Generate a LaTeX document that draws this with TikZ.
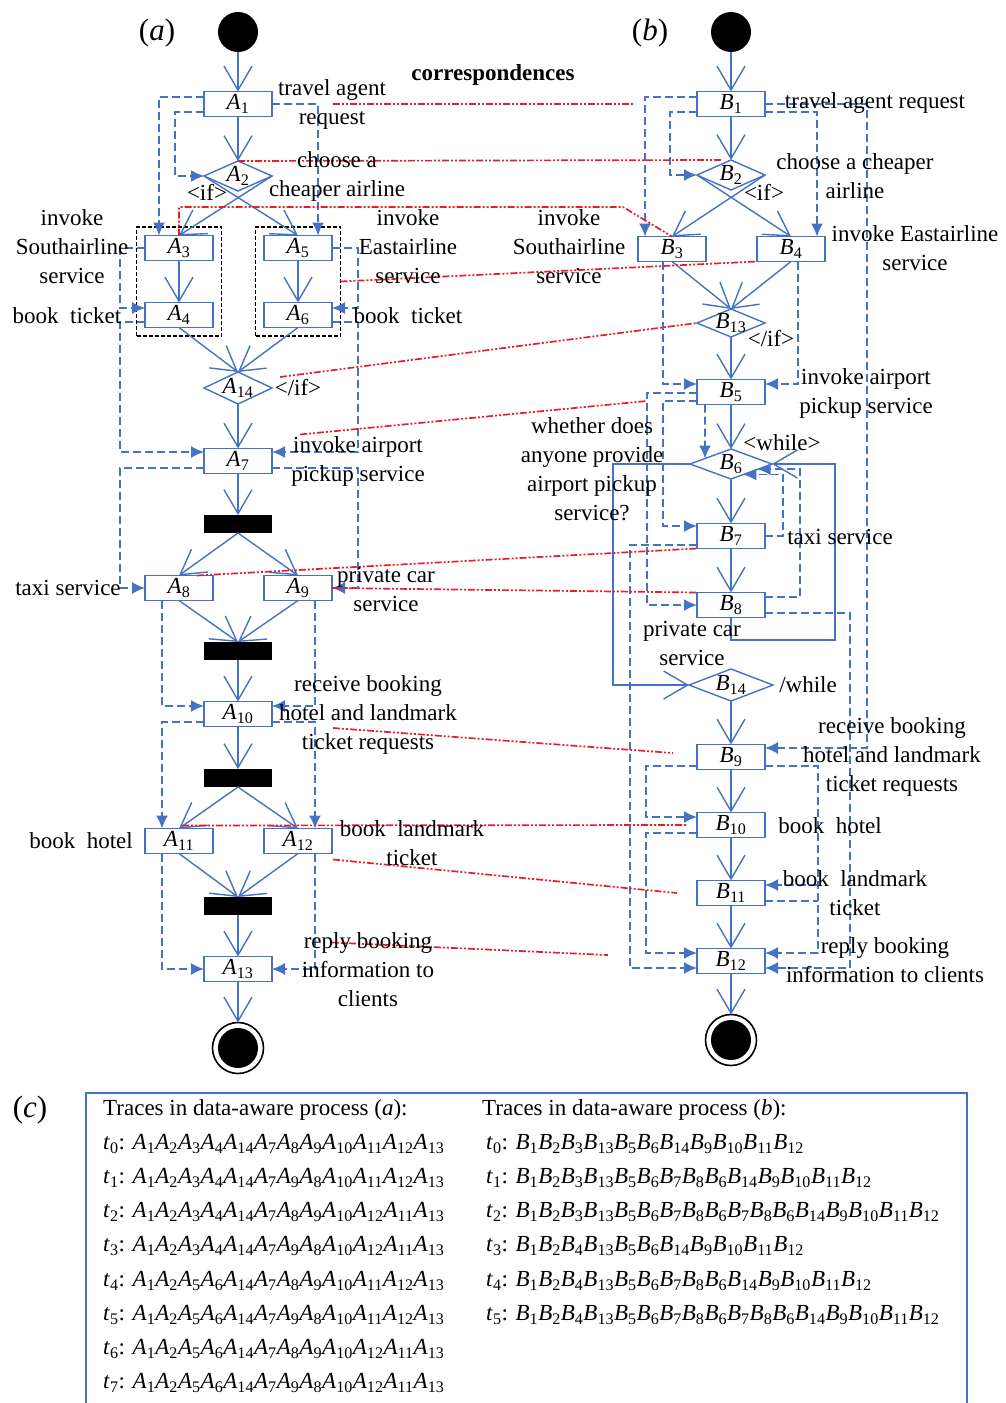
\documentclass[tikz,border=0pt]{standalone}
\usepackage{fontspec}
\setmainfont{Liberation Serif}
\usetikzlibrary{arrows.meta,calc,shapes.geometric,fit}
\definecolor{flowblue}{RGB}{68,114,196}
\definecolor{corrred}{RGB}{232,30,38}
\newcommand\lbl{\fontsize{23}{29}\selectfont}
\newcommand\panelfont{\fontsize{31}{36}\selectfont}
\newcommand\act[2]{\textit{#1}\textsubscript{#2}}
\newcommand\trace[2]{\foreach \k in {#2}{\act{#1}{\k}}}
\begin{document}
\begin{tikzpicture}[x=1pt,y=-1pt,
  every node/.style={inner sep=0pt, outer sep=0pt},
  every label/.style={font=\lbl, inner sep=0pt},
  actbox/.style={draw=flowblue, line width=1.4pt, minimum width=68pt, minimum height=25pt, font=\lbl},
  dec/.style={draw=flowblue, line width=1.4pt, diamond, minimum width=68pt, minimum height=30pt},
  startdot/.style={circle, fill=black, minimum size=40pt},
  stopdot/.style={circle, draw=black, line width=1.6pt, minimum size=51pt,
    path picture={\fill[black] (path picture bounding box.center) circle (20pt);}},
  syncbar/.style={fill=black, minimum width=68pt, minimum height=18pt},
  lab/.style={font=\lbl, align=center},
  flow/.style={draw=flowblue, line width=1.4pt, -{Straight Barb[length=24pt,width=28pt,line width=1.4pt]}},
  data/.style={draw=flowblue, line width=1.6pt, dash pattern=on 8pt off 4pt, -{Latex[length=13pt,width=12pt]}},
  dataline/.style={draw=flowblue, line width=1.6pt, dash pattern=on 8pt off 4pt},
  corr/.style={draw=corrred, line width=1.7pt, dash pattern=on 7pt off 2pt on 2pt off 2pt on 2pt off 2pt},
  grp/.style={draw=black, line width=1.4pt, dash pattern=on 4pt off 2pt, inner sep=8.5pt},
]
\useasboundingbox (0,0) rectangle (1005,1403);

% ---------------- process (a) ----------------
\node[startdot] (sA) at (238,32) {};
\node[actbox] (A1) at (238,104) {\act{A}{1}};
\node[dec, label=center:{\act{A}{2}}] (A2) at (238,176) {};
\node[actbox] (A3) at (179,248) {\act{A}{3}};
\node[actbox] (A4) at (179,315) {\act{A}{4}};
\node[actbox] (A5) at (298,248) {\act{A}{5}};
\node[actbox] (A6) at (298,315) {\act{A}{6}};
\node[grp, fit=(A3)(A4)] (gL) {};
\node[grp, fit=(A5)(A6)] (gR) {};
\node[dec, minimum height=32pt, label=center:{\act{A}{14}}] (A14) at (238,388) {};
\node[actbox] (A7) at (238,461) {\act{A}{7}};
\node[syncbar] (bar1) at (238,524) {};
\node[actbox] (A8) at (179,588) {\act{A}{8}};
\node[actbox] (A9) at (298,588) {\act{A}{9}};
\node[syncbar] (bar2) at (238,651) {};
\node[actbox] (A10) at (238,714) {\act{A}{10}};
\node[syncbar] (bar3) at (238,778) {};
\node[actbox] (A11) at (179,841) {\act{A}{11}};
\node[actbox] (A12) at (298,841) {\act{A}{12}};
\node[syncbar] (bar4) at (238,906) {};
\node[actbox] (A13) at (238,969) {\act{A}{13}};
\node[stopdot] (eA) at (238,1048) {};

% ---------------- process (b) ----------------
\node[startdot] (sB) at (731,32) {};
\node[actbox] (B1) at (731,104) {\act{B}{1}};
\node[dec, label=center:{\act{B}{2}}] (B2) at (731,175) {};
\node[actbox] (B3) at (672,249) {\act{B}{3}};
\node[actbox] (B4) at (791,249) {\act{B}{4}};
\node[dec, minimum height=28pt, label=center:{\act{B}{13}}] (B13) at (731,323) {};
\node[actbox] (B5) at (731,392) {\act{B}{5}};
\node[dec, minimum width=82pt, label=center:{\act{B}{6}}] (B6) at (731,464) {};
\node[actbox] (B7) at (731,536) {\act{B}{7}};
\node[actbox] (B8) at (731,605) {\act{B}{8}};
\node[dec, minimum width=84pt, minimum height=32pt, label=center:{\act{B}{14}}] (B14) at (731,685) {};
\node[actbox] (B9) at (731,757) {\act{B}{9}};
\node[actbox] (B10) at (731,825) {\act{B}{10}};
\node[actbox] (B11) at (731,893) {\act{B}{11}};
\node[actbox] (B12) at (731,961) {\act{B}{12}};
\node[stopdot] (eB) at (731,1040) {};

% ---------------- control flow (a) ----------------
\draw[flow] (sA) -- (A1);
\draw[flow] (A1) -- (A2.north);
\draw[flow] (A2.west) -- (A5.north);
\draw[flow] (A2.east) -- (A3.north);
\draw[flow] (A3) -- (A4);
\draw[flow] (A5) -- (A6);
\draw[flow] (A4.south) -- (A14.north);
\draw[flow] (A6.south) -- (A14.north);
\draw[flow] (A14.south) -- (A7);
\draw[flow] (A7) -- (bar1);
\draw[flow] (bar1.south) -- (A8.north);
\draw[flow] (bar1.south) -- (A9.north);
\draw[flow] (A8.south) -- (bar2.north);
\draw[flow] (A9.south) -- (bar2.north);
\draw[flow] (bar2) -- (A10);
\draw[flow] (A10) -- (bar3);
\draw[flow] (bar3.south) -- (A11.north);
\draw[flow] (bar3.south) -- (A12.north);
\draw[flow] (A11.south) -- (bar4.north);
\draw[flow] (A12.south) -- (bar4.north);
\draw[flow] (bar4) -- (A13);
\draw[flow] (A13) -- (eA);

% ---------------- control flow (b) ----------------
\draw[flow] (sB) -- (B1);
\draw[flow] (B1) -- (B2.north);
\draw[flow] (B2.west) -- (B4.north);
\draw[flow] (B2.east) -- (B3.north);
\draw[flow] (B3.south) -- (B13.north);
\draw[flow] (B4.south) -- (B13.north);
\draw[flow] (B13.south) -- (B5);
\draw[flow] (B5) -- (B6.north);
\draw[flow] (B6.south) -- (B7);
\draw[flow] (B7) -- (B8);
\draw[flow] (B8.south) -- (731,640) -- (835,640) -- (835,464) -- (B6.east);
\draw[flow] (B6.west) -- (613,464) -- (613,685) -- (B14.west);
\draw[flow] (B14.south) -- (B9);
\draw[flow] (B9) -- (B10);
\draw[flow] (B10) -- (B11);
\draw[flow] (B11) -- (B12);
\draw[flow] (B12) -- (eB);

% ---------------- data flow (a) ----------------
\draw[data] ($(A1.west)+(0,-7)$) -| ($(A3.north)+(-20,0)$);
\draw[data] ($(A1.west)+(0,8)$) -- (175,112) |- (A2.west);
\draw[data] (A1.east) -| ($(A5.north)+(20,0)$);
\draw[data] (A3.west) -- (120,248) |- ($(A4.west)+(0,-7)$);
\draw[data] ($(A4.west)+(0,7)$) -- (120,322) |- ($(A7.west)+(0,-9)$);
\draw[data] ($(A7.west)+(0,7)$) -- (120,468) |- (A8.west);
\draw[data] (A5.east) -- (358,248) |- ($(A6.east)+(0,-7)$);
\draw[data] ($(A6.east)+(0,7)$) -- (358,322) |- ($(A7.east)+(0,-9)$);
\draw[data] ($(A7.east)+(0,7)$) -- (358,468) |- (A9.east);
\draw[data] ($(A8.south)+(-17,0)$) |- ($(A10.west)+(0,-8)$);
\draw[data] ($(A9.south)+(17,0)$) |- ($(A10.east)+(0,-8)$);
\draw[data] ($(A10.west)+(0,8)$) -| ($(A11.north)+(-17,0)$);
\draw[data] ($(A10.east)+(0,8)$) -| ($(A12.north)+(17,0)$);
\draw[data] ($(A11.south)+(-17,0)$) |- (A13.west);
\draw[data] ($(A12.south)+(17,0)$) |- (A13.east);

% ---------------- data flow (b) ----------------
\draw[data] ($(B1.west)+(0,-7)$) -| ($(B3.north)+(-27,0)$);
\draw[data] ($(B1.west)+(0,8)$) -- (670,112) |- (B2.west);
\draw[data] ($(B1.east)+(0,8)$) -| ($(B4.north)+(26,0)$);
\draw[data] (B1.east) -- (867,104) |- ($(B9.east)+(0,-9)$);
\draw[data] ($(B3.south)+(-9,0)$) |- ($(B5.west)+(0,-8)$);
\draw[data] ($(B4.south)+(7,0)$) |- ($(B5.east)+(0,-8)$);
\draw[data] ($(B5.west)+(0,1)$) -- (647,393) |- (B8.west);
\draw[data] ($(B5.west)+(0,9)$) -- (663,401) |- ($(B7.west)+(0,-10)$);
\draw[data] ($(B5.south)+(-26,0)$) -- ($(B6.north)!0.634!(B6.west)$);
\draw[data] (B7.east) -- (783,536) |- ($(B6.south)!0.3!(B6.east)$);
\draw[data] ($(B8.east)+(0,-8)$) -- (800,597) |- ($(B6.south)!0.65!(B6.east)$);
\draw[data] ($(B7.west)+(0,9)$) -- (630,545) |- ($(B12.west)+(0,7)$);
\draw[data] ($(B8.east)+(0,8)$) -- (850,613) |- ($(B12.east)+(0,7)$);
\draw[data] ($(B9.west)+(0,9)$) -- (646,766) |- ($(B10.west)+(0,-8)$);
\draw[data] ($(B10.west)+(0,8)$) -- (646,833) |- ($(B12.west)+(0,-8)$);
\draw[data] ($(B9.east)+(0,9)$) -- (818,766) |- ($(B12.east)+(0,-8)$);
\draw[dataline] ($(B11.east)+(0,8)$) -- (818,901);
\draw[data] (818,885) -- ($(B11.east)+(0,-8)$);

% ---------------- correspondences ----------------
\draw[corr] ($(A1.east)+(61,0)$) -- ($(B1.west)+(-63,0)$);
\draw[corr] (A2.north) -- ($(B2.north)+(-10,0)$);
\draw[corr] (A3.north) |- (623,207) -- (B3.north);
\draw[corr] (gR.east) -- (B4.south west);
\draw[corr] ($(A14.east)+(8,-11)$) -- (B13.west);
\draw[corr] ($(A7.north east)+(28,-14)$) -- ($(B5.west)+(-50,9)$);
\draw[corr] ($(A8.north east)+(-16,0)$) -- (B7.south west);
\draw[corr] (A9.east) -- (B8.north west);
\draw[corr] ($(A10.east)+(61,14)$) -- ($(B9.west)+(-24,-4)$);
\draw[corr] ($(A11.north)+(3,-3)$) -- ($(B10.west)+(-10,0)$);
\draw[corr] ($(A12.south east)+(1,6)$) -- ($(B11.west)+(-20,0)$);
\draw[corr] ($(A13.north east)+(60,-14)$) -- ($(B12.west)+(-89,-6)$);

% ---------------- labels ----------------
\node[font=\panelfont] (ta) at (157,33) {(\textit{a})};
\node[font=\panelfont] (tb) at (650,33) {(\textit{b})};
\node[font=\panelfont] (tc) at (30,1110) {(\textit{c})};
\node[lab, font=\lbl\bfseries] (corrhead) at (493,75) {correspondences};

\node[lab] at (332,104) {travel agent\\request};
\node[lab] at (337,176) {choose a\\cheaper airline};
\node[lab] at (207,192) {<if>};
\node[lab] at (72,247) {invoke\\Southairline\\service};
\node[lab] at (408,247) {invoke\\Eastairline\\service};
\node[lab] at (67,316) {book\hspace{0.5em}ticket};
\node[lab] at (408,316) {book\hspace{0.5em}ticket};
\node[lab] at (298,388) {</if>};
\node[lab] at (358,461) {invoke airport\\pickup service};
\node[lab] at (68,588) {taxi service};
\node[lab] at (386,589) {private car\\service};
\node[lab] at (368,715) {receive booking\\hotel and landmark\\ticket requests};
\node[lab] at (81,841) {book\hspace{0.5em}hotel};
\node[lab] at (412,843) {book\hspace{0.5em}landmark\\ticket};
\node[lab] at (368,970) {reply booking\\information to\\clients};

\node[lab] at (875,103) {travel agent request};
\node[lab] at (855,176) {choose a cheaper\\airline};
\node[lab] at (764,192) {<if>};
\node[lab] at (569,247) {invoke\\Southairline\\service};
\node[lab] at (915,248) {invoke Eastairline\\service};
\node[lab] at (771,339) {</if>};
\node[lab] at (866,393) {invoke airport\\pickup service};
\node[lab] at (782,443) {<while>};
\node[lab] at (592,469) {whether does\\anyone provide\\airport pickup\\service?};
\node[lab] at (840,537) {taxi service};
\node[lab] at (692,643) {private car\\service};
\node[lab] at (808,685) {/while};
\node[lab] at (892,757) {receive booking\\hotel and landmark\\ticket requests};
\node[lab] at (830,826) {book\hspace{0.5em}hotel};
\node[lab] at (855,893) {book\hspace{0.5em}landmark\\ticket};
\node[lab] at (885,960) {reply booking\\information to clients};

% ---------------- traces (c) ----------------
\draw[draw=flowblue, line width=1.5pt] (86,1410) -- (86,1093) -- (967,1093) -- (967,1410);
\begin{scope}[every node/.style={lab, anchor=west, inner sep=0pt}]
\node (ha) at (103,1110) {Traces in data-aware process (\textit{a}):};
\node (ta0) at (103,1144) {\act{t}{0}: \trace{A}{1,2,3,4,14,7,8,9,10,11,12,13}};
\node (ta1) at (103,1178) {\act{t}{1}: \trace{A}{1,2,3,4,14,7,9,8,10,11,12,13}};
\node (ta2) at (103,1212) {\act{t}{2}: \trace{A}{1,2,3,4,14,7,8,9,10,12,11,13}};
\node (ta3) at (103,1246) {\act{t}{3}: \trace{A}{1,2,3,4,14,7,9,8,10,12,11,13}};
\node (ta4) at (103,1281) {\act{t}{4}: \trace{A}{1,2,5,6,14,7,8,9,10,11,12,13}};
\node (ta5) at (103,1315) {\act{t}{5}: \trace{A}{1,2,5,6,14,7,9,8,10,11,12,13}};
\node (ta6) at (103,1349) {\act{t}{6}: \trace{A}{1,2,5,6,14,7,8,9,10,12,11,13}};
\node (ta7) at (103,1383) {\act{t}{7}: \trace{A}{1,2,5,6,14,7,9,8,10,12,11,13}};
\node (hb) at (482,1110) {Traces in data-aware process (\textit{b}):};
\node (tb0) at (486,1144) {\act{t}{0}: \trace{B}{1,2,3,13,5,6,14,9,10,11,12}};
\node (tb1) at (486,1178) {\act{t}{1}: \trace{B}{1,2,3,13,5,6,7,8,6,14,9,10,11,12}};
\node (tb2) at (486,1212) {\act{t}{2}: \trace{B}{1,2,3,13,5,6,7,8,6,7,8,6,14,9,10,11,12}};
\node (tb3) at (486,1246) {\act{t}{3}: \trace{B}{1,2,4,13,5,6,14,9,10,11,12}};
\node (tb4) at (486,1281) {\act{t}{4}: \trace{B}{1,2,4,13,5,6,7,8,6,14,9,10,11,12}};
\node (tb5) at (486,1315) {\act{t}{5}: \trace{B}{1,2,4,13,5,6,7,8,6,7,8,6,14,9,10,11,12}};
\end{scope}
\end{tikzpicture}
\end{document}
